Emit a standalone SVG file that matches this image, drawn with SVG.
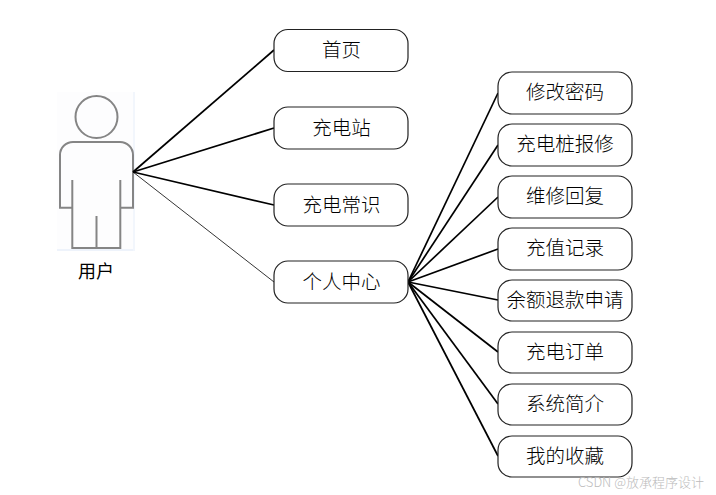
<svg xmlns="http://www.w3.org/2000/svg" width="716" height="495" viewBox="0 0 716 495">
<style>
.b{fill:#fff;stroke:#222;stroke-width:1.2}
.t{font-family:"Noto Sans CJK SC","Noto Sans CJK JP",sans-serif;font-size:19.5px;font-weight:300;text-anchor:middle;fill:#000}
.c line{stroke:#000;stroke-width:1.7}
.a{fill:none;stroke:#858585;stroke-width:2}
</style>
<rect width="716" height="495" fill="#fff"/>
<g id="actor">
<rect x="57" y="92" width="77" height="158" fill="#fdfdfe"/>
<rect x="57" y="249" width="77" height="2" fill="#eef3fb"/>
<rect x="133" y="92" width="2" height="159" fill="#f2f6fc"/>
<circle class="a" cx="96.500" cy="117" r="21"/>
<path class="a" d="M72.300 180V207.700H60V155a13 13 0 0 1 13-13H120a13 13 0 0 1 13 13V207.700H120.300V180M72.300 207.700V248H120.300V207.700M96.500 216V248"/>
<text x="96" y="278" font-family="'Noto Sans CJK SC',sans-serif" font-size="18" text-anchor="middle" fill="#000">用户</text>
</g>
<g class="c" id="connectors">
<line x1="133" y1="172" x2="274" y2="50"/>
<line x1="133" y1="172" x2="274" y2="128"/>
<line x1="133" y1="172" x2="274" y2="205"/>
<line x1="133" y1="172" x2="274" y2="282" style="stroke-width:.8"/>
<line x1="408" y1="282" x2="498" y2="93"/>
<line x1="408" y1="282" x2="498" y2="145"/>
<line x1="408" y1="282" x2="498" y2="197"/>
<line x1="408" y1="282" x2="498" y2="249"/>
<line x1="408" y1="282" x2="498" y2="300"/>
<line x1="408" y1="282" x2="498" y2="352"/>
<line x1="408" y1="282" x2="498" y2="404"/>
<line x1="408" y1="282" x2="498" y2="456"/>
</g>
<g id="n1"><rect class="b" x="274" y="29.500" width="134" height="42" rx="14"/><text class="t" x="341.500" y="57">首页</text></g>
<g id="n2"><rect class="b" x="274" y="107" width="134" height="42" rx="14"/><text class="t" x="341.500" y="135">充电站</text></g>
<g id="n3"><rect class="b" x="274" y="184" width="134" height="42" rx="14"/><text class="t" x="341.500" y="212">充电常识</text></g>
<g id="n4"><rect class="b" x="274" y="261" width="134" height="42" rx="14"/><text class="t" x="341.500" y="289">个人中心</text></g>
<g id="r1"><rect class="b" x="498" y="72" width="134" height="42" rx="14"/><text class="t" x="565" y="99">修改密码</text></g>
<g id="r2"><rect class="b" x="498" y="124" width="134" height="42" rx="14"/><text class="t" x="565" y="151">充电桩报修</text></g>
<g id="r3"><rect class="b" x="498" y="176" width="134" height="42" rx="14"/><text class="t" x="565" y="203">维修回复</text></g>
<g id="r4"><rect class="b" x="498" y="228" width="134" height="42" rx="14"/><text class="t" x="565" y="255">充值记录</text></g>
<g id="r5"><rect class="b" x="498" y="280" width="134" height="41" rx="14"/><text class="t" x="565" y="307">余额退款申请</text></g>
<g id="r6"><rect class="b" x="498" y="332" width="134" height="41" rx="14"/><text class="t" x="565" y="359">充电订单</text></g>
<g id="r7"><rect class="b" x="498" y="384" width="134" height="41" rx="14"/><text class="t" x="565" y="411">系统简介</text></g>
<g id="r8"><rect class="b" x="498" y="436" width="134" height="41" rx="14"/><text class="t" x="565" y="463">我的收藏</text></g>
<text x="578" y="487" font-family="'Noto Sans CJK SC',sans-serif" font-size="13" font-weight="300" fill="#bbb">CSDN @放承程序设计</text>
</svg>
